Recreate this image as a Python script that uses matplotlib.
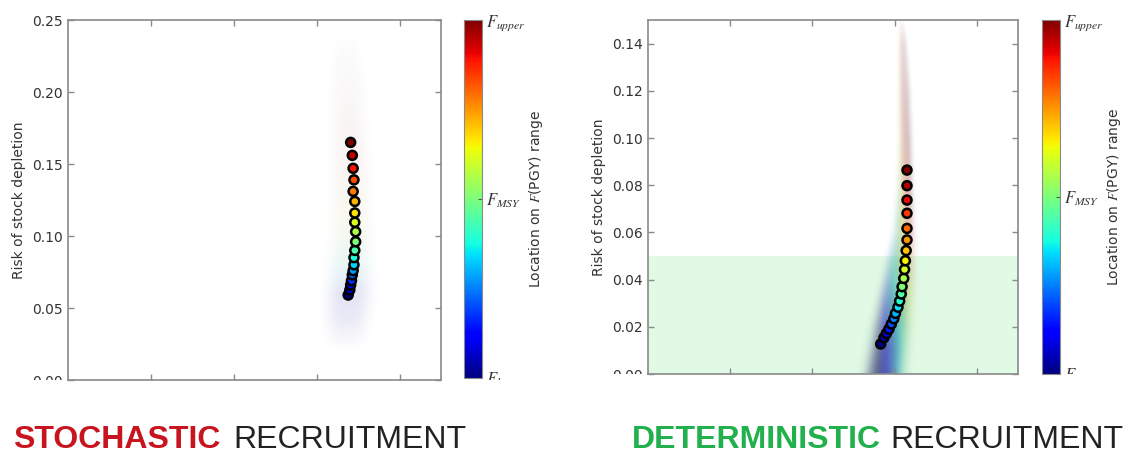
import numpy as np
import matplotlib
matplotlib.use("Agg")
import matplotlib.pyplot as plt
from matplotlib import cm
from matplotlib.colors import Normalize
from matplotlib.transforms import Bbox, TransformedBbox

plt.rcParams['mathtext.fontset'] = 'stix'

W, H = 1148, 454

# --- stochastic recruitment: mean risk per F level (bottom -> top) ---
sto_x = [3.38, 3.40, 3.41, 3.42, 3.43, 3.44, 3.45, 3.45, 3.46, 3.47,
         3.47, 3.46, 3.46, 3.46, 3.44, 3.45, 3.44, 3.43, 3.41]
sto_y = [0.059, 0.0625, 0.066, 0.069, 0.073, 0.076, 0.080, 0.085, 0.090, 0.096,
         0.103, 0.1095, 0.116, 0.124, 0.131, 0.139, 0.147, 0.156, 0.165]
sto_f = [0.0, 0.06, 0.11, 0.17, 0.22, 0.28, 0.33, 0.39, 0.44, 0.5,
         0.56, 0.61, 0.67, 0.72, 0.78, 0.83, 0.89, 0.94, 1.0]

# simulation cloud: height, centre, half-width, colour level, density
sto_cloud_y = [0.02, 0.04, 0.06, 0.08, 0.10, 0.12, 0.14, 0.16, 0.18, 0.20, 0.22, 0.245]
sto_cloud_x = [3.36, 3.37, 3.39, 3.41, 3.42, 3.42, 3.41, 3.40, 3.39, 3.38, 3.37, 3.36]
sto_cloud_w = [0.22, 0.27, 0.28, 0.27, 0.26, 0.25, 0.24, 0.23, 0.22, 0.21, 0.19, 0.16]
sto_cloud_c = [0.05, 0.08, 0.15, 0.35, 0.55, 0.7, 0.8, 0.9, 0.95, 1.0, 1.0, 1.0]
sto_cloud_a = [0.0, 0.1, 0.15, 0.12, 0.1, 0.08, 0.07, 0.06, 0.05, 0.04, 0.025, 0.0]

# --- deterministic recruitment ---
det_x = [2.83, 2.87, 2.90, 2.93, 2.96, 2.99, 3.01, 3.04, 3.06, 3.08, 3.09,
         3.11, 3.12, 3.13, 3.14, 3.15, 3.15, 3.15, 3.15, 3.15, 3.15]
det_y = [0.0127, 0.0154, 0.0172, 0.019, 0.0212, 0.0234, 0.0257, 0.0283, 0.0309,
         0.0339, 0.037, 0.0405, 0.0443, 0.048, 0.0523, 0.0568, 0.0617, 0.0681,
         0.0737, 0.0798, 0.0864]
det_f = [0.0, 0.05, 0.1, 0.15, 0.2, 0.25, 0.3, 0.35, 0.4, 0.45, 0.5,
         0.55, 0.6, 0.65, 0.7, 0.75, 0.8, 0.85, 0.9, 0.95, 1.0]

det_cloud_y = [-0.01, 0.0, 0.01, 0.02, 0.03, 0.04, 0.05, 0.06, 0.08, 0.10, 0.12, 0.14, 0.152]
det_cloud_x = [2.86, 2.89, 2.93, 2.97, 3.01, 3.05, 3.08, 3.11, 3.13, 3.13, 3.12, 3.10, 3.08]
det_cloud_w = [0.25, 0.25, 0.24, 0.23, 0.21, 0.19, 0.16, 0.13, 0.1, 0.09, 0.08, 0.06, 0.04]
det_cloud_c = [0.12, 0.12, 0.17, 0.25, 0.35, 0.45, 0.55, 0.65, 0.8, 0.92, 1.0, 1.0, 1.0]
det_cloud_a = [0.7, 0.7, 0.68, 0.65, 0.6, 0.52, 0.45, 0.38, 0.32, 0.27, 0.22, 0.15, 0.0]

safe_limit = 0.05
cbar_ticks = [0.0, 0.5, 1.0]
cbar_labels = [r'$F_{lower}$', r'$F_{MSY}$', r'$F_{upper}$']

jet = matplotlib.colormaps['jet']
grey = '#8a8a8a'
txt = '#333333'


def px_box(x0, y0, x1, y1):
    return [x0 / W, (H - y1) / H, (x1 - x0) / W, (y1 - y0) / H]


def draw_cloud(ax, cy, cx, cw, cc, ca, skew=0.0, mute=0.45, shade=0.45):
    x0, x1 = ax.get_xlim()
    y0, y1 = ax.get_ylim()
    gx = np.linspace(x0, x1, 700)
    gy = np.linspace(y0, y1, 500)
    X, Y = np.meshgrid(gx, gy)
    xc = np.interp(Y, cy, cx)
    hw = np.interp(Y, cy, cw)
    lev = np.interp(Y, cy, cc)
    amp = np.interp(Y, cy, ca, left=0, right=0)
    d = (X - xc) / hw
    rgba = jet(np.clip(lev + skew * d, 0, 1))
    # overlapping runs of many colours look greyer than the pure colormap
    rgba[..., :3] = (1 - mute) * rgba[..., :3] + mute * shade
    rgba[..., 3] = amp * np.exp(-1.5 * np.abs(d) ** 3)
    ax.imshow(rgba, extent=[x0, x1, y0, y1], origin='lower', aspect='auto',
              interpolation='bilinear', zorder=1)


def style_axes(ax, ylim, yticks):
    ax.set_xlim(0, 4.5)
    ax.set_ylim(*ylim)
    ax.set_xticks([1, 2, 3, 4])
    ax.set_xticklabels([])
    ax.set_yticks(yticks)
    ax.set_yticklabels(['%.2f' % v for v in yticks])
    ax.tick_params(direction='in', top=True, right=True, length=4, width=1,
                   color=grey, labelcolor=txt, labelsize=10, pad=4)
    for s in ax.spines.values():
        s.set_color(grey)
        s.set_linewidth(1.2)
    ax.set_ylabel('Risk of stock depletion', fontsize=10, color=txt)


def add_cbar(fig, cax):
    sm = cm.ScalarMappable(norm=Normalize(0, 1), cmap=jet)
    cb = fig.colorbar(sm, cax=cax, ticks=cbar_ticks)
    cb.ax.set_yticklabels(cbar_labels)
    cb.ax.tick_params(direction='in', length=3, color='#555555',
                      labelsize=12, labelcolor=txt, pad=3)
    cb.outline.set_edgecolor(grey)
    cb.set_label(r'Location on $F$(PGY) range', fontsize=10, color=txt, labelpad=1)
    return cb


def clip_below(fig, ax, labels):
    # hide whatever hangs below the plot frame
    bottom = ax.get_position().y0
    box = TransformedBbox(Bbox([[0, bottom], [1, 1]]), fig.transFigure)
    for t in labels:
        t.set_clip_box(box)
        t.set_clip_on(True)


fig = plt.figure(figsize=(W / 100, H / 100), dpi=100)

# stochastic panel
ax1 = fig.add_axes(px_box(68, 20, 441, 380))
style_axes(ax1, (0, 0.25), [0.0, 0.05, 0.10, 0.15, 0.20, 0.25])
draw_cloud(ax1, sto_cloud_y, sto_cloud_x, sto_cloud_w, sto_cloud_c, sto_cloud_a,
           mute=0.5)
ax1.scatter(sto_x, sto_y, c=sto_f, cmap=jet, vmin=0, vmax=1, s=42,
            edgecolors='black', linewidths=1.8, zorder=3)
cax1 = fig.add_axes(px_box(464, 20, 482, 378))
add_cbar(fig, cax1)

# deterministic panel
ax2 = fig.add_axes(px_box(648, 20, 1018, 374))
style_axes(ax2, (0, 0.15), [0.0, 0.02, 0.04, 0.06, 0.08, 0.10, 0.12, 0.14])
ax2.axhspan(0, safe_limit, color='#e1fae5', lw=0, zorder=0)
draw_cloud(ax2, det_cloud_y, det_cloud_x, det_cloud_w, det_cloud_c, det_cloud_a,
           skew=0.3, mute=0.42, shade=0.22)
ax2.scatter(det_x, det_y, c=det_f, cmap=jet, vmin=0, vmax=1, s=42,
            edgecolors='black', linewidths=1.8, zorder=3)
cax2 = fig.add_axes(px_box(1042, 20, 1060, 374))
add_cbar(fig, cax2)

for a in (ax1, ax2):
    clip_below(fig, a, a.get_yticklabels())
for c, a in ((cax1, ax1), (cax2, ax2)):
    clip_below(fig, a, c.get_yticklabels())

# panel captions
base = (H - 448) / H
font = ['Liberation Sans', 'DejaVu Sans']
fig.text(13 / W, base, 'STOCHASTIC', color='#c8141e', fontsize=23,
         fontweight='bold', family=font, va='baseline')
fig.text(233 / W, base, 'RECRUITMENT', color='#222222', fontsize=23,
         family=font, va='baseline')
fig.text(632 / W, base, 'DETERMINISTIC', color='#20b04c', fontsize=23,
         fontweight='bold', family=font, va='baseline')
fig.text(890 / W, base, 'RECRUITMENT', color='#222222', fontsize=23,
         family=font, va='baseline')

fig.savefig('out.png', dpi=100)
